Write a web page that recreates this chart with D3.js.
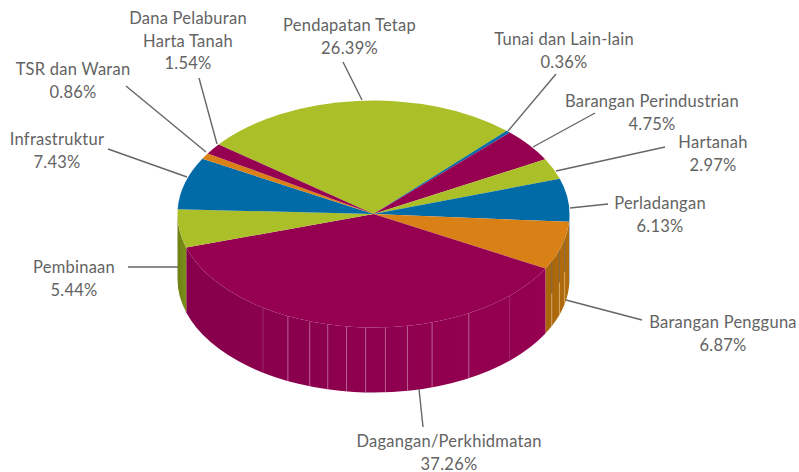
<!DOCTYPE html>
<html><head><meta charset="utf-8">
<script src="https://cdn.jsdelivr.net/npm/d3@7/dist/d3.min.js"></script>
<style>
html,body{margin:0;padding:0;background:#fff}
svg{display:block}
text{font-family:Lato,"Noto Sans",sans-serif;font-size:16.5px;fill:#636363;text-anchor:middle;letter-spacing:.25px}
</style></head><body>
<svg id="c" width="799" height="472"></svg>
<script>
const categories=["Pendapatan Tetap","Tunai dan Lain-lain","Barangan Perindustrian","Hartanah","Perladangan","Barangan Pengguna","Dagangan/Perkhidmatan","Pembinaan","Infrastruktur","TSR dan Waran","Dana Pelaburan Harta Tanah"];
const values=[26.39,0.36,4.75,2.97,6.13,6.87,37.26,5.44,7.43,0.86,1.54];
const sliceColors=["#abbf28","#006ba6","#950050","#abbf28","#006ba6","#d98016","#950050","#abbf28","#006ba6","#d98016","#950050"];
const sideDark=["#6e7f14","#004f7c","#86004a","#6e7f14","#5d7f95","#a9660a","#86004b","#6e7f14","#004f7c","#a9660a","#86004a"];
const sideLight=["#7d9019","#005f93","#95004f","#7d9019","#5d7f95","#b06c0c","#950050","#7d9019","#005f93","#b06c0c","#95004f"];
const labelLines=[["Pendapatan Tetap","26.39%"],["Tunai dan Lain-lain","0.36%"],["Barangan Perindustrian","4.75%"],["Hartanah","2.97%"],["Perladangan","6.13%"],["Barangan Pengguna","6.87%"],["Dagangan/Perkhidmatan","37.26%"],["Pembinaan","5.44%"],["Infrastruktur","7.43%"],["TSR dan Waran","0.86%"],["Dana Pelaburan","Harta Tanah","1.54%"]];
const labelX=[349.5,564,652,713,660,723,449,74,57,73,188];
const labelY=[31,45,107,148,209,328,447,273,145,75,24];
const leaderStart=[[343,62],[556,74],[595,113],[665,147],[608,204],[642,320],[423,427],[128,267],[108,149],[126,86],[199,78]];
const leaderEnd=[[362,100],[508,131],[533,147],[556,171],[570,208],[566,300],[419,389],[178,267],[187,177],[206,152],[217,144]];
// angles (deg clockwise from top) of the faint facet seams on the rim
const seamCrimson=[205.9,199,193.5,187.9,182.3,176.5,170,162.6,150.9];
const seamCrimsonFaint=[214.3,136];
const seamOrange=[114.6,108.4,102.8];

const cx=373.5,cy=214,rx=196,ry=113.5,depth=65,startDeg=-52.2;
const svg=d3.select("#c");
const pie=d3.pie().sort(null).value(d=>d).startAngle(startDeg*Math.PI/180).endAngle((startDeg+360)*Math.PI/180);
const arcs=pie(values);
const px=a=>cx+rx*Math.sin(a), py=a=>cy-ry*Math.cos(a);
const rad=d3.scaleLinear().domain([0,180]).range([0,Math.PI]);
const defs=svg.append("defs");

const rimPath=(a0,a1)=>{
  const s0=Math.max(a0,Math.PI/2), s1=Math.min(a1,3*Math.PI/2);
  if(s1<=s0) return null;
  const lf=(s1-s0)>Math.PI?1:0;
  return `M${px(s0)},${py(s0)}A${rx},${ry} 0 ${lf} 1 ${px(s1)},${py(s1)}`+
         `L${px(s1)},${py(s1)+depth}A${rx},${ry} 0 ${lf} 0 ${px(s0)},${py(s0)+depth}Z`;
};
const rimData=arcs.map((d,i)=>({i,a0:d.startAngle,a1:d.endAngle,p:rimPath(d.startAngle,d.endAngle)})).filter(d=>d.p);
rimData.forEach(d=>{
  const g=defs.append("linearGradient").attr("id","rim"+d.i).attr("gradientUnits","userSpaceOnUse")
    .attr("x1",px(Math.max(d.a0,Math.PI/2))).attr("x2",px(Math.min(d.a1,3*Math.PI/2))).attr("y1",0).attr("y2",0);
  g.append("stop").attr("offset",0).attr("stop-color",sideLight[d.i]);
  g.append("stop").attr("offset",1).attr("stop-color",sideDark[d.i]);
});
svg.append("g").selectAll("path").data(rimData).join("path")
  .attr("d",d=>d.p).attr("fill",d=>`url(#rim${d.i})`);

const seamLine=deg=>{const a=rad(deg);return {x:px(a),y0:py(a),y1:py(a)+depth};};
const seams=svg.append("g");
const drawSeams=(list,cls,col,w,f0,f1)=>seams.selectAll("line."+cls).data(list.map(seamLine)).join("line").attr("class",cls)
  .attr("x1",d=>d.x).attr("x2",d=>d.x)
  .attr("y1",d=>d.y0+(d.y1-d.y0)*f0).attr("y2",d=>d.y0+(d.y1-d.y0)*f1)
  .attr("stroke",col).attr("stroke-width",w);
drawSeams(seamCrimson,"c","#c678a4",.8,0,1);
drawSeams(seamCrimsonFaint,"cf","#a23a75",.7,0,1);
drawSeams(seamOrange,"od","#7d6a4a",.9,0,.5);
drawSeams(seamOrange,"ol","#d9b070",.9,.5,1);

const arc=d3.arc().innerRadius(0).outerRadius(rx);
const topFace=svg.append("g").attr("transform",`translate(${cx},${cy}) scale(1,${ry/rx})`);
topFace.selectAll("path").data(arcs).join("path").attr("d",arc).attr("fill",(d,i)=>sliceColors[i]);

svg.append("g").selectAll("line").data(leaderStart).join("line")
  .attr("x1",d=>d[0]).attr("y1",d=>d[1])
  .attr("x2",(d,i)=>leaderEnd[i][0]).attr("y2",(d,i)=>leaderEnd[i][1])
  .attr("stroke","#666").attr("stroke-width",1.4);

const lab=svg.append("g").selectAll("text").data(labelLines).join("text")
  .attr("transform",(d,i)=>`translate(${labelX[i]},${labelY[i]})`);
lab.selectAll("tspan").data(d=>d).join("tspan").attr("x",0).attr("y",(d,i)=>i*22.5).text(d=>d);
</script>
</body></html>
